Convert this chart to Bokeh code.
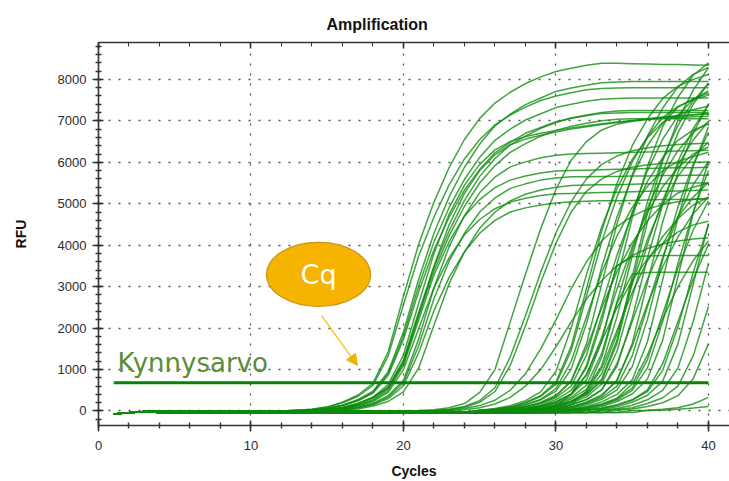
from bokeh.plotting import figure
from bokeh.models import Range1d, SingleIntervalTicker, LinearAxis, Arrow, NormalHead
from bokeh.core.properties import value
from bokeh.embed import file_html
from bokeh.resources import INLINE

# ---------------- data ----------------
cycles = list(range(1, 41))
baseline_start = [-70, -40, -15]          # RFU at cycles 1-3 (all wells)
flat_early = 0                            # flat baseline RFU before take-off
flat_late = -35
threshold_rfu = 680                       # "Kynnysarvo"
threshold_cycles = [1, 40]

# each list: RFU from the first cycle where the well leaves the baseline up to cycle 40
early_rfu = [
    [20, 40, 100, 210, 380, 670, 1430, 2770, 4030, 5040, 5880, 6550, 7060, 7430, 7690, 7900, 8060, 8190, 8270, 8340, 8390, 8390, 8380, 8370, 8360, 8360, 8350, 8340],
    [10, 20, 60, 140, 270, 480, 950, 1910, 3180, 4290, 5170, 5880, 6440, 6880, 7160, 7390, 7550, 7710, 7790, 7860, 7920, 7940, 7950, 7950, 7950, 7950, 7950, 7950],
    [20, 40, 90, 200, 350, 620, 1330, 2570, 3740, 4680, 5460, 6080, 6550, 6900, 7140, 7330, 7490, 7600, 7680, 7750, 7780, 7790, 7800, 7800, 7800, 7800, 7800, 7800],
    [10, 20, 60, 140, 260, 450, 910, 1810, 3020, 4080, 4910, 5590, 6120, 6530, 6800, 7020, 7170, 7320, 7400, 7470, 7520, 7540, 7550, 7550, 7550, 7550, 7550, 7550],
    [10, 40, 90, 180, 330, 580, 1230, 2390, 3480, 4350, 5080, 5660, 6090, 6420, 6630, 6820, 6960, 7070, 7140, 7200, 7240, 7250, 7250, 7250, 7250, 7250, 7250],
    [10, 20, 60, 130, 240, 430, 860, 1730, 2880, 3890, 4680, 5330, 5830, 6230, 6480, 6700, 6840, 6980, 7060, 7120, 7180, 7190, 7200, 7200, 7200, 7200, 7200, 7200],
    [10, 40, 80, 180, 320, 560, 1200, 2330, 3380, 4230, 4940, 5500, 5920, 6240, 6450, 6630, 6770, 6870, 6940, 7000, 7040, 7050, 7050, 7050, 7050, 7050, 7050],
    [10, 30, 80, 170, 330, 640, 1350, 2600, 3800, 4750, 5450, 5950, 6300, 6500, 6620, 6700, 6770, 6830, 6880, 6930, 6970, 7010, 7050, 7090, 7120, 7150, 7180],
    [10, 20, 60, 140, 280, 540, 1150, 2300, 3500, 4500, 5250, 5800, 6180, 6420, 6560, 6650, 6730, 6800, 6860, 6910, 6960, 7000, 7040, 7080, 7110, 7140, 7170],
    [10, 40, 90, 190, 370, 740, 1740, 2980, 3970, 4710, 5270, 5640, 5890, 6010, 6110, 6170, 6200, 6210, 6220, 6230, 6240, 6250, 6260, 6270, 6280, 6290],
    [20, 60, 130, 250, 490, 1100, 2200, 3280, 4090, 4700, 5100, 5390, 5570, 5670, 5740, 5790, 5800, 5810, 5820, 5830, 5840, 5850, 5860, 5870, 5870, 5880],
    [10, 30, 80, 170, 340, 680, 1580, 2710, 3620, 4290, 4800, 5140, 5370, 5480, 5570, 5620, 5650, 5650, 5660, 5660, 5670, 5670, 5680, 5680, 5690, 5690],
    [20, 50, 120, 230, 460, 1040, 2070, 3080, 3840, 4410, 4800, 5070, 5230, 5330, 5400, 5440, 5450, 5460, 5460, 5470, 5480, 5480, 5490, 5500, 5500],
    [20, 50, 120, 230, 450, 1000, 1990, 2970, 3700, 4250, 4620, 4880, 5040, 5130, 5200, 5240, 5250, 5260, 5270, 5280, 5290, 5300, 5300, 5310, 5320, 5330],
    [10, 30, 80, 150, 300, 610, 1410, 2420, 3230, 3840, 4290, 4600, 4800, 4900, 4970, 5020, 5050, 5060, 5070, 5070, 5080, 5090, 5100, 5100, 5110, 5120],
]

mid_rfu = [
    [10, 30, 80, 180, 450, 1000, 2150, 3300, 4400, 5350, 6050, 6500, 6780, 6920, 6990, 7030, 7060, 7080, 7100, 7110],
    [10, 40, 110, 250, 560, 1300, 2300, 3350, 4300, 5050, 5600, 5950, 6150, 6280, 6350, 6400, 6430, 6450, 6460],
    [10, 30, 90, 210, 470, 1100, 2050, 3100, 4050, 4800, 5300, 5600, 5780, 5880, 5940, 5970, 5990, 6000, 6010],
    [20, 60, 130, 260, 500, 900, 1500, 2200, 2950, 3600, 4100, 4450, 4700, 4870, 4980, 5050, 5100, 5130],
    [30, 80, 170, 330, 600, 1000, 1550, 2150, 2700, 3150, 3500, 3750, 3920, 4030, 4100, 4150, 4180],
]

late_rfu = [
    [20, 60, 130, 250, 460, 960, 2000, 3290, 4440, 5370, 6070, 6590, 6960, 7140, 7270, 7360],
    [20, 40, 100, 210, 370, 700, 1560, 2950, 4350, 5490, 6400, 7050, 7540, 7830, 8000, 8120],
    [10, 30, 80, 160, 280, 540, 1200, 2270, 3340, 4220, 4910, 5420, 5800, 6020, 6140, 6240],
    [20, 40, 90, 190, 350, 650, 1460, 2770, 4080, 5160, 6010, 6620, 7080, 7350, 7510, 7620],
    [20, 60, 140, 270, 480, 1010, 2110, 3470, 4680, 5660, 6400, 6940, 7330, 7530, 7670],
    [20, 40, 100, 190, 350, 730, 1510, 2490, 3360, 4060, 4590, 4980, 5260, 5400, 5500],
    [20, 40, 100, 210, 380, 720, 1620, 3060, 4510, 5700, 6630, 7310, 7820, 8120, 8290],
    [10, 40, 90, 180, 320, 600, 1350, 2560, 3760, 4760, 5540, 6110, 6530, 6780, 6920],
    [10, 20, 60, 120, 210, 400, 890, 1690, 2490, 3150, 3670, 4040, 4320, 4490, 4580],
    [20, 60, 140, 270, 500, 1040, 2160, 3560, 4800, 5800, 6560, 7120, 7520, 7720],
    [20, 50, 120, 220, 410, 860, 1780, 2940, 3960, 4790, 5410, 5870, 6200, 6370],
    [20, 40, 110, 220, 400, 750, 1670, 3170, 4660, 5900, 6860, 7570, 8100, 8400],
    [10, 40, 90, 180, 330, 620, 1390, 2630, 3870, 4890, 5690, 6280, 6720, 6970],
    [10, 30, 60, 140, 240, 460, 1030, 1940, 2860, 3620, 4210, 4640, 4970, 5160],
    [30, 120, 400, 1100, 2300, 3500, 3720, 3740, 3750, 3750, 3750, 3750],
    [30, 70, 150, 290, 520, 1090, 2270, 3740, 5040, 6090, 6890, 7480, 7900],
    [20, 60, 120, 230, 430, 900, 1860, 3070, 4140, 5000, 5660, 6140, 6490],
    [20, 50, 110, 230, 410, 770, 1710, 3240, 4770, 6030, 7020, 7740, 8280],
    [20, 40, 100, 220, 390, 730, 1630, 3100, 4560, 5760, 6710, 7400, 7910],
    [20, 40, 90, 190, 340, 650, 1440, 2740, 4030, 5090, 5930, 6540, 6990],
    [10, 30, 70, 150, 270, 510, 1140, 2160, 3180, 4020, 4680, 5160, 5520],
    [40, 150, 480, 1300, 2600, 3300, 3340, 3350, 3350, 3350, 3350],
    [20, 70, 150, 280, 510, 1080, 2240, 3690, 4980, 6020, 6810, 7390],
    [20, 50, 100, 200, 360, 750, 1570, 2580, 3480, 4200, 4760, 5160],
    [20, 40, 100, 220, 390, 730, 1630, 3100, 4560, 5760, 6710, 7400],
    [10, 40, 80, 180, 320, 600, 1330, 2520, 3710, 4690, 5460, 6020],
    [20, 70, 150, 280, 510, 1070, 2210, 3650, 4920, 5950, 6720],
    [20, 40, 90, 170, 310, 650, 1350, 2230, 3000, 3630, 4100],
    [20, 40, 110, 220, 400, 750, 1670, 3170, 4660, 5900, 6860],
    [10, 30, 80, 160, 290, 550, 1240, 2340, 3450, 4360, 5070],
    [20, 60, 140, 270, 500, 1040, 2160, 3560, 4800, 5800],
    [20, 50, 110, 230, 410, 770, 1710, 3240, 4770, 6030],
    [10, 30, 70, 150, 270, 510, 1140, 2160, 3180, 4020],
    [20, 60, 140, 260, 470, 980, 2030, 3340, 4500],
    [20, 40, 100, 210, 380, 720, 1620, 3060, 4510],
    [20, 60, 140, 270, 500, 1040, 2160, 3560],
    [10, 40, 80, 180, 320, 600, 1330, 2520],
    [20, 50, 110, 200, 370, 780, 1620],
    [10, 20, 40, 80, 170, 330],
    [10, 20, 40, 70, 110],
]

x_ticks_interval = 10
y_ticks_interval = 1000

# annotation placement (data coordinates)
label_text = "Kynnysarvo"
label_pos = (1.25, 1146)
cq_text = "Cq"
cq_pos = (14.43, 3294)
arrow_from = (14.62, 2304)
arrow_to = (16.98, 1098)


def full_curve(vals, flat):
    start = 41 - len(vals)
    return baseline_start + [flat] * (start - 1 - len(baseline_start)) + vals


all_curves = ([full_curve(v, flat_early) for v in early_rfu + mid_rfu]
              + [full_curve(v, flat_late) for v in late_rfu])

# ---------------- figure ----------------
p = figure(width=729, height=481, output_backend="svg", toolbar_location=None,
           x_range=Range1d(0, 41.38), y_range=Range1d(-350, 8890),
           min_border_left=98, min_border_right=0, min_border_top=42, min_border_bottom=56,
           title="Amplification")
p.outline_line_color = None
p.background_fill_color = "white"
p.border_fill_color = "white"

p.title.text_font = "Liberation Sans"
p.title.text_font_size = "16px"
p.title.text_font_style = "bold"
p.title.text_color = "#111111"
p.title.align = "left"
p.title.offset = 228
p.title.standoff = 19

xt = SingleIntervalTicker(interval=x_ticks_interval, num_minor_ticks=5)
yt = SingleIntervalTicker(interval=y_ticks_interval, num_minor_ticks=5)
p.xaxis.ticker = xt
p.yaxis.ticker = yt

for ax in (p.xaxis[0], p.yaxis[0]):
    ax.axis_line_color = "#333333"
    ax.axis_line_width = 1.6
    ax.major_tick_line_color = "#333333"
    ax.major_tick_line_width = 1.6
    ax.minor_tick_line_color = "#333333"
    ax.minor_tick_line_width = 1.4
    ax.major_tick_in = 5
    ax.major_tick_out = 6
    ax.minor_tick_in = 3
    ax.minor_tick_out = 3
    ax.major_label_text_font = "Liberation Sans"
    ax.major_label_text_font_size = "13px"
    ax.major_label_text_color = "#2b2b2b"
    ax.axis_label_text_font = "Liberation Sans"
    ax.axis_label_text_font_size = "14px"
    ax.axis_label_text_font_style = "bold"
    ax.axis_label_text_color = "#111111"

p.xaxis.axis_label = "Cycles"
p.yaxis.axis_label = "RFU"
p.xaxis.major_label_standoff = 9
p.xaxis.axis_label_standoff = 10
p.yaxis.major_label_standoff = 6
p.yaxis.axis_label_standoff = 26

top = LinearAxis(ticker=SingleIntervalTicker(interval=x_ticks_interval, num_minor_ticks=5))
top.axis_line_color = "#333333"
top.axis_line_width = 1.6
top.major_tick_line_color = "#333333"
top.major_tick_line_width = 1.6
top.minor_tick_line_color = "#333333"
top.major_tick_in = 6
top.major_tick_out = 0
top.minor_tick_in = 4
top.minor_tick_out = 0
top.major_label_text_font_size = "1px"
top.major_label_text_alpha = 0
top.major_label_standoff = 0
p.add_layout(top, "above")

for g in (p.xgrid[0], p.ygrid[0]):
    g.grid_line_color = "#555555"
    g.grid_line_dash = "2 8"
    g.grid_line_width = 1.3

# curves
p.multi_line(xs=[cycles] * len(all_curves), ys=all_curves,
             line_color="#0b8a0b", line_alpha=0.78, line_width=1.5)

# threshold
p.line(x=threshold_cycles, y=[threshold_rfu] * len(threshold_cycles),
       line_color="#0a7f0a", line_width=3)

p.text(x=[label_pos[0]], y=[label_pos[1]], text=[label_text],
       text_font=value("DejaVu Sans"), text_font_size="26px",
       text_color="#5b8c3a", text_baseline="alphabetic", text_align="left")

p.ellipse(x=[cq_pos[0]], y=[cq_pos[1]], width=104, height=64,
          width_units="screen", height_units="screen",
          fill_color="#f6b400", line_color="#c99410", line_width=1.2)
p.text(x=[cq_pos[0]], y=[cq_pos[1]], text=[cq_text],
       text_font=value("DejaVu Sans"), text_font_size="27px",
       text_color="white", text_baseline="middle", text_align="center")

p.add_layout(Arrow(end=NormalHead(size=11, fill_color="#f2b400", line_color="#f2b400"),
                   x_start=arrow_from[0], y_start=arrow_from[1],
                   x_end=arrow_to[0], y_end=arrow_to[1],
                   line_color="#f2b400", line_width=1.2))

open("out.html", "w").write(file_html(p, INLINE))
